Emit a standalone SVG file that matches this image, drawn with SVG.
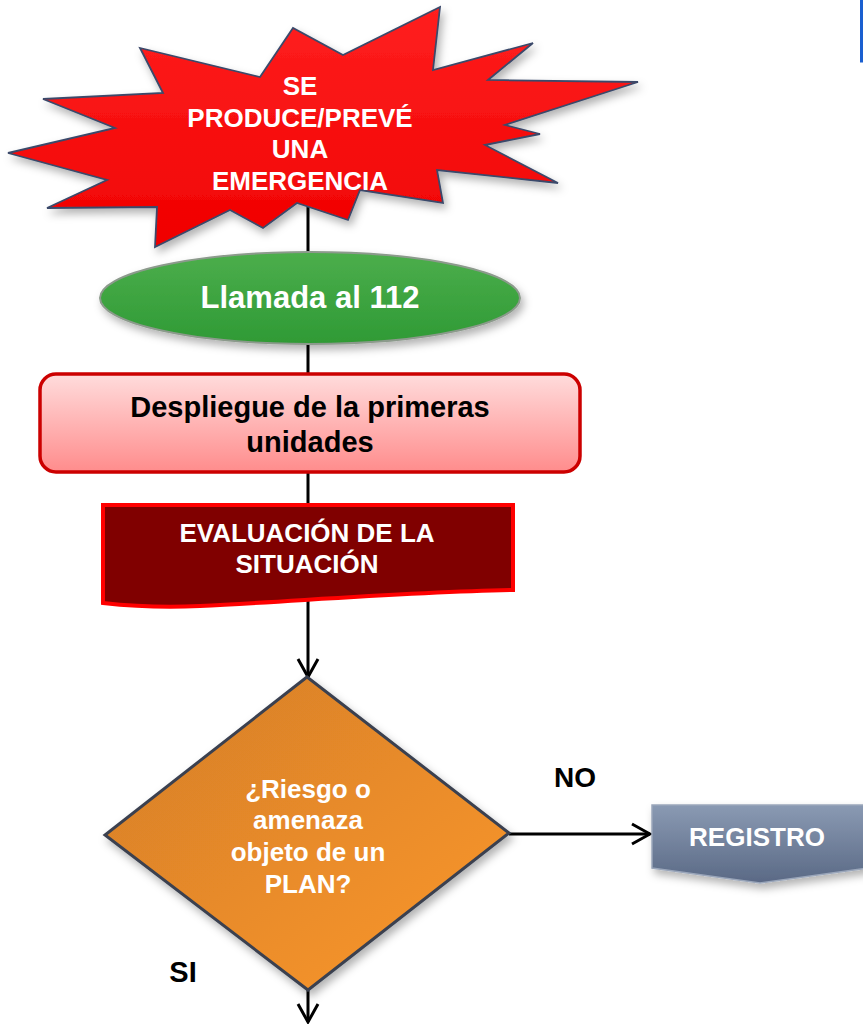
<svg xmlns="http://www.w3.org/2000/svg" width="863" height="1024" viewBox="0 0 863 1024">
<style>
  .lbl{font-family:"Liberation Sans",Arial,sans-serif;font-weight:bold;text-anchor:middle}
  .w{fill:#ffffff}
  .k{fill:#000000}
  .conn{stroke:#000000;stroke-width:3;fill:none}
</style>
<defs>
  <marker id="arr" viewBox="0 0 22 24" refX="20" refY="12" markerWidth="22" markerHeight="24" markerUnits="userSpaceOnUse" orient="auto">
    <path d="M2,2 L20,12 L2,22" fill="none" stroke="#000" stroke-width="3"/>
  </marker>
  <filter id="sh" x="-10%" y="-10%" width="130%" height="140%">
    <feDropShadow dx="3" dy="5" stdDeviation="4" flood-color="#000" flood-opacity="0.3"/>
  </filter>
  <linearGradient id="gStar" x1="0" y1="0" x2="0" y2="1">
    <stop offset="0" stop-color="#ff2020"/>
    <stop offset="1" stop-color="#f00000"/>
  </linearGradient>
  <linearGradient id="gEll" x1="0" y1="0" x2="0" y2="1">
    <stop offset="0" stop-color="#4cae4c"/>
    <stop offset="1" stop-color="#2f9a35"/>
  </linearGradient>
  <linearGradient id="gRect" x1="0" y1="0" x2="0" y2="1">
    <stop offset="0" stop-color="#ffdcdc"/>
    <stop offset="1" stop-color="#ff8c8c"/>
  </linearGradient>
  <linearGradient id="gDia" x1="0" y1="0" x2="1" y2="1">
    <stop offset="0" stop-color="#d47e28"/>
    <stop offset="1" stop-color="#fb972a"/>
  </linearGradient>
  <linearGradient id="gReg" x1="0" y1="0" x2="0" y2="1">
    <stop offset="0" stop-color="#8a9ab3"/>
    <stop offset="1" stop-color="#5a6985"/>
  </linearGradient>
</defs>

<g id="connectors">
  <line class="conn" x1="308" y1="200" x2="308" y2="505"/>
  <line class="conn" x1="308" y1="600" x2="308" y2="677" marker-end="url(#arr)"/>
  <line class="conn" x1="509" y1="834" x2="650" y2="834" marker-end="url(#arr)"/>
  <line class="conn" x1="308" y1="990" x2="308" y2="1022" marker-end="url(#arr)"/>
</g>

<g id="frame-edge">
  <path d="M861.5,0 V61 H863" fill="none" stroke="#1a5fd0" stroke-width="3"/>
</g>

<g id="start">
  <polygon points="8,153 115,128 43,99 163,93 140,48 260,77 293,28 343,55 440,7 433,70 533,43 488,80 638,82 505,125 540,134 485,145 558,183 437,170 443,203 360,190 348,220 297,203 263,228 230,210 155,247 157,207 47,208 107,180" fill="url(#gStar)" stroke="#3b4a6b" stroke-width="1.8" stroke-linejoin="miter" filter="url(#sh)"/>
  <text class="lbl w" font-size="26" x="300" y="95">SE</text>
  <text class="lbl w" font-size="26" x="300" y="127">PRODUCE/PREVÉ</text>
  <text class="lbl w" font-size="26" x="300" y="158">UNA</text>
  <text class="lbl w" font-size="26" x="300" y="190">EMERGENCIA</text>
</g>

<g id="call">
  <ellipse cx="310" cy="298" rx="210" ry="46" fill="url(#gEll)" stroke="#8c9a8c" stroke-width="2" filter="url(#sh)"/>
  <text class="lbl w" font-size="31" x="310" y="308">Llamada al 112</text>
</g>

<g id="deploy">
  <rect x="40" y="374" width="540" height="98" rx="16" ry="16" fill="url(#gRect)" stroke="#cc0000" stroke-width="3.5"/>
  <text class="lbl k" font-size="29" x="310" y="417">Despliegue de la primeras</text>
  <text class="lbl k" font-size="29" x="310" y="452">unidades</text>
</g>

<g id="evaluation">
  <path d="M103,505 H513 V590 C410,592 300,601 200,606 C160,608 130,606 103,603 Z" fill="#800000" stroke="#ff0000" stroke-width="4"/>
  <text class="lbl w" font-size="26" x="307" y="542">EVALUACIÓN DE LA</text>
  <text class="lbl w" font-size="26" x="307" y="573">SITUACIÓN</text>
</g>

<g id="decision">
  <polygon points="307,677 509,833 308,990 105,835" fill="url(#gDia)" stroke="#3a4150" stroke-width="3" filter="url(#sh)"/>
  <text class="lbl w" font-size="26" x="308" y="798">¿Riesgo o</text>
  <text class="lbl w" font-size="26" x="308" y="829">amenaza</text>
  <text class="lbl w" font-size="26" x="308" y="861">objeto de un</text>
  <text class="lbl w" font-size="26" x="308" y="893">PLAN?</text>
</g>

<g id="registro">
  <polygon points="652,805 868,805 868,868 760,883 652,868" fill="url(#gReg)" stroke="#9aa6ba" stroke-width="1.5" filter="url(#sh)"/>
  <text class="lbl w" font-size="26" x="757" y="846">REGISTRO</text>
</g>

<g id="labels">
  <text class="lbl k" font-size="28" x="575" y="787">NO</text>
  <text class="lbl k" font-size="29" x="183" y="982">SI</text>
</g>
</svg>
